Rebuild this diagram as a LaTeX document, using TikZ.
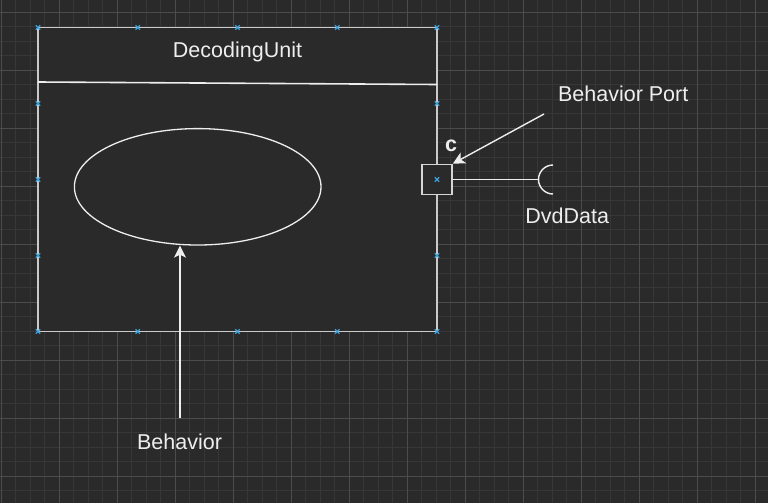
\documentclass[tikz,border=0pt]{standalone}
\usepackage{fontspec}
\setmainfont{Liberation Sans}
\usetikzlibrary{shapes.geometric,arrows.meta}
\definecolor{bgcol}{HTML}{2A2A2A}
\definecolor{gridminor}{HTML}{373737}
\definecolor{gridmajor}{HTML}{4C4C4C}
\definecolor{linecol}{HTML}{EEEEEE}
\definecolor{handlecol}{HTML}{3AA3DC}
\tikzset{
  lbl/.style={text=linecol,font=\fontsize{21.5}{26}\selectfont,inner sep=0pt,anchor=base},
  handle/.style={handlecol,line width=1.3pt},
  tip/.style={-{Stealth[length=12pt,width=12pt,inset=3pt]},linecol,line width=1.4pt}
}
\begin{document}
\begin{tikzpicture}[x=1pt,y=-1pt]
    \pgfmathsetmacro{\xl}{38}
    \pgfmathsetmacro{\xr}{437}
    \pgfmathsetmacro{\yt}{27.5}
    \pgfmathsetmacro{\yb}{331.5}
    \pgfmathsetmacro{\ym}{179.5}
    \useasboundingbox (0,0) rectangle (768,503);
    \fill[bgcol] (0,0) rectangle (768,503);
    \foreach \i in {0,...,53} {
      \draw[gridminor,line width=0.8pt] (1.3+14.5*\i,0)--(1.3+14.5*\i,503);
    }
    \foreach \i in {0,...,34} {
      \draw[gridminor,line width=0.8pt] (0,12.3+14.5*\i-14.5)--(768,12.3+14.5*\i-14.5);
    }
    \foreach \i in {0,...,13} {
      \draw[gridmajor,line width=0.9pt] (1.3+58*\i,0)--(1.3+58*\i,503);
    }
    \foreach \i in {0,...,8} {
      \draw[gridmajor,line width=0.9pt] (0,12.3+58*\i)--(768,12.3+58*\i);
    }
    \node[draw=linecol!85!black,fill=bgcol,line width=1.6pt,minimum width=399pt,
      minimum height=304pt,inner sep=0pt] (unit) at ({(\xl+\xr)/2},{(\yt+\yb)/2}) {};
    \draw[linecol,line width=1.6pt] (\xl,82)--(\xr,84.5);
    \node[draw=linecol,ellipse,line width=1.3pt,minimum width=246.6pt,
      minimum height=116.4pt,inner sep=0pt] (behav) at (197.7,186.8) {};
    \node[draw=linecol!90!black,fill=bgcol,line width=1.6pt,minimum size=30pt,
      inner sep=0pt] (port) at (\xr,\ym) {};
    \foreach \hx in {38,137.75,237.5,337.25,437} {
      \draw[handle] (\hx-2.2,\yt-2.2)--(\hx+2.2,\yt+2.2) (\hx-2.2,\yt+2.2)--(\hx+2.2,\yt-2.2);
      \draw[handle] (\hx-2.2,\yb-2.2)--(\hx+2.2,\yb+2.2) (\hx-2.2,\yb+2.2)--(\hx+2.2,\yb-2.2);
    }
    \foreach \hy in {103.5,179.5,255.5} {
      \draw[handle] (\xl-2.2,\hy-2.2)--(\xl+2.2,\hy+2.2) (\xl-2.2,\hy+2.2)--(\xl+2.2,\hy-2.2);
      \draw[handle] (\xr-2.2,\hy-2.2)--(\xr+2.2,\hy+2.2) (\xr-2.2,\hy+2.2)--(\xr+2.2,\hy-2.2);
    }
    \coordinate (sock) at (538.5,\ym);
    \draw[linecol,line width=1.4pt] (port.east)--(sock);
    \draw[linecol,line width=1.4pt] (553,165) arc[start angle=90,end angle=270,radius=14.5pt];
    \node[lbl] (title) at (237.5,57.7) {DecodingUnit};
    \node[lbl,font=\fontsize{21.5}{26}\selectfont\bfseries] (pname) at (451.2,151.7) {c};
    \node[lbl] (portlbl) at (623.2,101) {Behavior Port};
    \node[lbl] (datalbl) at (567.2,223.3) {DvdData};
    \node[lbl] (behavlbl) at (179.5,449) {Behavior};
    \coordinate (bpstart) at (544,114);
    \coordinate (bstart) at (180,418.3);
    \draw[tip] (bpstart)--(port.north east);
    \draw[tip] (bstart)--(bstart |- behav.south);
  \end{tikzpicture}
\end{document}
